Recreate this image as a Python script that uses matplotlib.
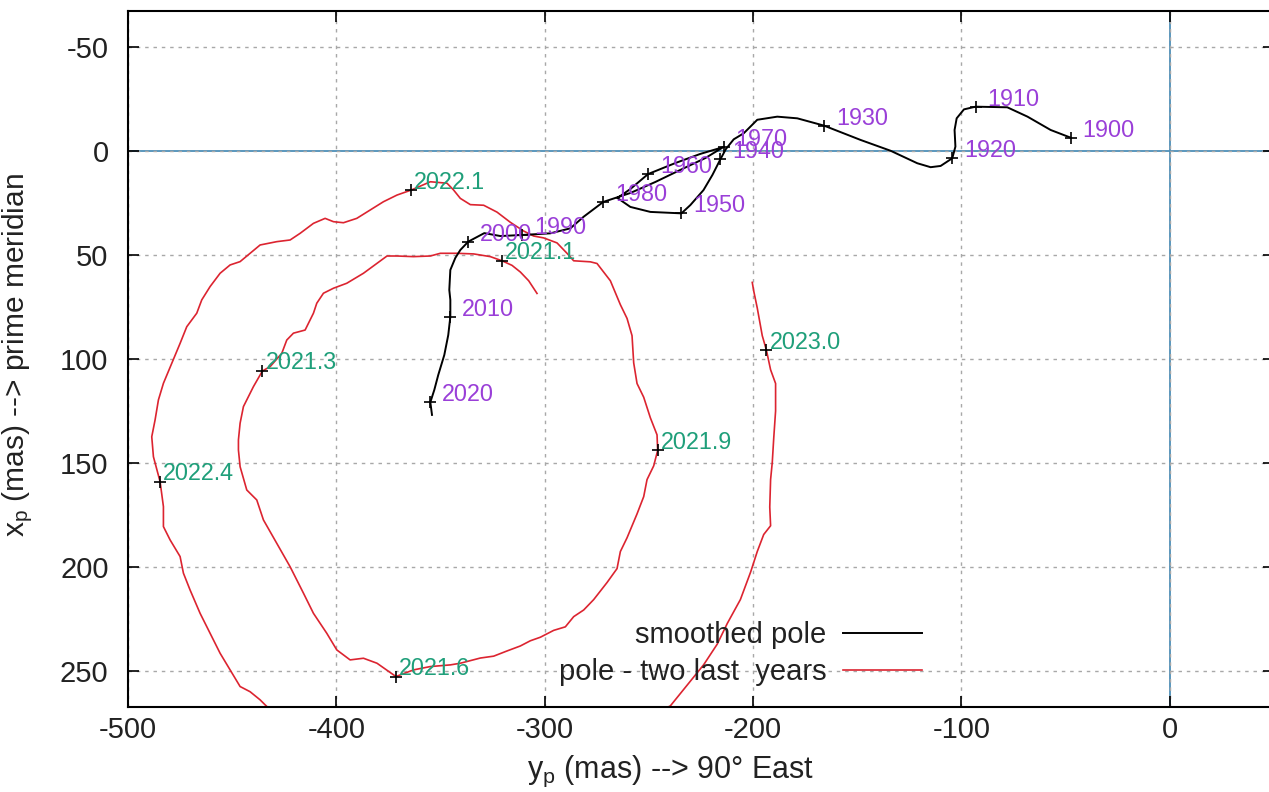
import matplotlib
matplotlib.use("Agg")
import matplotlib.pyplot as plt

plt.rcParams['font.family'] = ['Liberation Sans', 'DejaVu Sans']
plt.rcParams['mathtext.fontset'] = 'custom'
plt.rcParams['mathtext.rm'] = 'Liberation Sans'
plt.rcParams['mathtext.it'] = 'Liberation Sans'
plt.rcParams['axes.unicode_minus'] = False

# Smoothed pole path 1900-2021 (y_p, x_p in mas)
pole_y = [-47.6, -57.2, -68.3, -78.0, -93.2, -98.8, -102.3, -103.3, -102.9, -104.4,
          -110.0, -114.8, -121.2, -134.0, -148.4, -166.0, -178.8, -188.4, -198.0, -204.5,
          -209.3, -213.0, -215.7, -219.5, -223.8, -230.1, -234.4, -249.3, -258.9, -265.1,
          -258.9, -250.4, -237.3, -225.3, -214.2, -222.9, -234.9, -246.9, -258.9, -271.9,
          -281.3, -287.7, -297.3, -310.9, -321.3, -329.0, -336.7, -340.5, -342.9, -345.3,
          -345.8, -345.3, -345.3, -346.3, -348.2, -351.1, -353.0, -354.9, -354.1]
pole_x = [-6.4, -10.1, -16.5, -21.0, -21.3, -20.0, -15.7, -10.1, -2.1, 3.5,
          7.2, 7.8, 5.9, -0.1, -5.3, -12.2, -15.7, -16.5, -15.0, -8.5,
          -5.6, -1.0, 4.0, 11.5, 18.8, 26.0, 30.0, 29.3, 26.9, 22.6,
          18.3, 11.1, 5.8, 1.4, -1.9, 3.4, 9.1, 14.9, 20.2, 24.5,
          31.6, 37.2, 39.6, 40.4, 40.9, 39.5, 43.6, 47.6, 51.4, 57.2,
          66.8, 71.6, 79.7, 88.5, 98.1, 107.7, 114.9, 120.8, 126.9]

# Decade marks on the smoothed pole
decades = [1900, 1910, 1920, 1930, 1940, 1950, 1960, 1970, 1980, 1990, 2000, 2010, 2020]
decade_y = [-47.6, -93.2, -104.4, -166.0, -215.7, -234.4, -250.4, -214.2, -271.9,
            -310.9, -336.7, -345.3, -354.9]
decade_x = [-6.4, -21.3, 3.5, -12.2, 4.0, 30.0, 11.1, -1.9, 24.5, 40.4, 43.6, 79.7, 120.8]

# Daily pole over the last two years (y_p, x_p in mas)
recent_y = [-303.7, -307.7, -311.7, -315.7, -320.5, -326.1, -334.1, -342.1, -350.1, -354.9,
            -363.0, -370.9, -375.7, -380.5, -387.0, -395.0, -401.4, -406.2, -409.4, -411.0,
            -415.0, -420.6, -423.8, -426.2, -431.8, -435.5, -439.8, -444.6, -446.2, -447.0,
            -447.0, -446.2, -443.0, -438.2, -435.0, -428.6, -422.2, -415.8, -411.0, -404.6,
            -399.8, -393.4, -387.0, -380.5, -371.4, -363.0, -354.9, -345.3, -340.5, -330.9,
            -324.5, -318.1, -311.7, -306.9, -302.1, -295.7, -290.1, -286.1, -281.3, -276.5,
            -270.1, -265.3, -263.7, -260.5, -255.7, -252.5, -250.9, -247.7, -245.8, -246.1,
            -249.3, -252.5, -255.7, -257.3, -258.1, -260.5, -263.7, -268.5, -274.9, -278.1,
            -286.1, -289.3, -294.1, -300.5, -305.3, -310.1, -316.5, -322.9, -329.3, -335.7,
            -340.5, -343.8, -346.9, -354.9, -364.1, -370.9, -377.4, -383.8, -390.2, -396.6,
            -401.4, -405.4, -411.0, -417.4, -422.2, -428.6, -436.6, -441.4, -446.2, -451.0,
            -455.8, -460.6, -464.6, -467.0, -471.8, -475.0, -479.0, -483.0, -485.4, -487.0,
            -488.6, -487.8, -484.6, -483.0, -483.0, -479.8, -475.0, -473.4, -470.2, -465.4,
            -460.6, -455.8, -451.0, -446.2, -441.4, -436.6, -434.2, -425.0, -400.0, -360.0,
            -320.0, -280.0, -250.0, -239.7, -231.7, -223.7, -217.2, -212.4, -206.1, -201.2,
            -198.0, -194.9, -191.6, -192.0, -191.6, -190.8, -190.1, -189.2, -189.2, -191.6,
            -193.6, -195.6, -198.0, -199.7, -200.4]
recent_x = [68.5, 62.4, 58.2, 55.0, 52.8, 50.8, 49.5, 49.2, 49.2, 50.5,
            50.8, 50.5, 50.5, 54.0, 58.8, 63.6, 66.0, 68.4, 73.2, 78.0,
            86.1, 87.6, 90.9, 97.3, 103.7, 105.8, 113.3, 122.9, 130.9, 138.9,
            143.8, 151.8, 163.0, 167.8, 177.4, 188.6, 199.9, 212.6, 222.3, 231.9,
            239.9, 244.7, 243.9, 246.3, 252.7, 249.5, 247.9, 247.1, 246.3, 243.8,
            242.9, 240.4, 238.0, 235.5, 233.8, 230.5, 228.8, 223.9, 220.7, 215.7,
            207.5, 200.8, 192.6, 186.0, 174.5, 166.2, 158.0, 151.4, 144.0, 136.5,
            128.3, 118.4, 111.8, 101.9, 88.8, 80.5, 73.9, 62.4, 54.1, 53.3,
            52.8, 49.2, 44.2, 41.8, 40.9, 38.5, 34.3, 29.4, 26.1, 25.8,
            22.8, 18.7, 15.5, 14.8, 18.8, 21.2, 24.4, 28.4, 32.4, 34.5,
            34.0, 32.4, 34.8, 39.6, 42.8, 43.6, 45.2, 49.2, 53.2, 54.8,
            58.8, 65.2, 71.6, 78.0, 84.5, 92.5, 102.1, 111.7, 119.7, 129.3,
            137.4, 147.0, 159.0, 171.0, 180.6, 187.0, 195.0, 203.0, 211.1, 222.3,
            231.9, 241.5, 249.5, 257.5, 260.0, 263.9, 266.3, 275.0, 288.0, 296.0,
            295.0, 286.0, 272.0, 266.8, 256.9, 247.0, 237.1, 227.2, 215.7, 202.5,
            192.6, 184.4, 180.2, 171.2, 158.0, 149.8, 138.2, 125.0, 111.8, 105.2,
            95.8, 88.8, 75.5, 67.3, 63.2]

# Epoch marks on the recent pole
epochs = ['2021.1', '2021.3', '2021.6', '2021.9', '2022.1', '2022.4', '2023.0']
epoch_y = [-320.5, -435.5, -371.4, -245.8, -364.1, -484.6, -193.6]
epoch_x = [52.8, 105.8, 252.7, 144.0, 18.8, 159.0, 95.8]

W, H = 1269, 792
fig = plt.figure(figsize=(W / 100, H / 100), dpi=100)
left, right, top, bottom = 128, 1274, 11, 706.7
ax = fig.add_axes([left / W, 1 - bottom / H, (right - left) / W, (bottom - top) / H])

ax.set_xlim(-500, 50)
ax.set_ylim(267.2, -67.3)

grid_kw = dict(color='#a8a8a8', lw=1.0, ls=(0, (2.5, 3.5)), zorder=0)
ax.set_xticks([-500, -400, -300, -200, -100, 0])
ax.set_yticks([-50, 0, 50, 100, 150, 200, 250])
ax.grid(True, **grid_kw)
ax.axhline(0, color='#4d8fb8', lw=1.3, zorder=1)
ax.axvline(0, color='#4d8fb8', lw=1.3, zorder=1)

ax.plot(pole_y, pole_x, color='black', lw=1.4, label='smoothed pole', zorder=3)
ax.plot(recent_y, recent_x, color='#dc2430', lw=1.2, label='pole - two last  years', zorder=2)

ax.plot(decade_y, decade_x, ls='none', marker='+', ms=8, mew=1.2, color='black', zorder=4)
ax.plot(epoch_y, epoch_x, ls='none', marker='+', ms=8, mew=1.2, color='black', zorder=4)

for yr, yy, xx in zip(decades, decade_y, decade_x):
    ax.annotate(str(yr), (yy, xx), xytext=(8.6, 5.4), textcoords='offset points',
                ha='left', va='center', fontsize=16.8, color='#9a3fd8', zorder=5)
for lab, yy, xx in zip(epochs, epoch_y, epoch_x):
    ax.annotate(lab, (yy, xx), xytext=(2.2, 5.8), textcoords='offset points',
                ha='left', va='center', fontsize=16.8, color='#1f9f7a', zorder=5)

ax.tick_params(direction='in', length=8, width=1.2, top=True, right=True,
               labelsize=21, colors='black', labelcolor='#222222')
ax.tick_params(axis='y', pad=14)
ax.tick_params(axis='x', pad=7)
for s in ax.spines.values():
    s.set_linewidth(1.5)

leg = ax.legend(loc='lower right', bbox_to_anchor=(922 / W, 1 - 686 / H),
                bbox_transform=fig.transFigure, frameon=False, markerfirst=False,
                fontsize=21, handlelength=2.7, handletextpad=0.58, labelspacing=0.3,
                borderaxespad=0, borderpad=0)
for t in leg.get_texts():
    t.set_color('#222222')

fig.text(671 / W, 1 - 771 / H, r'y$_\mathrm{p}$ (mas) --> 90° East', ha='center', va='center',
         fontsize=22, color='#222222')
fig.text(18 / W, 1 - 355 / H, r'x$_\mathrm{p}$ (mas) --> prime meridian', ha='center',
         va='center', rotation=90, fontsize=21.5, color='#222222')

fig.savefig('out.png', dpi=100)
